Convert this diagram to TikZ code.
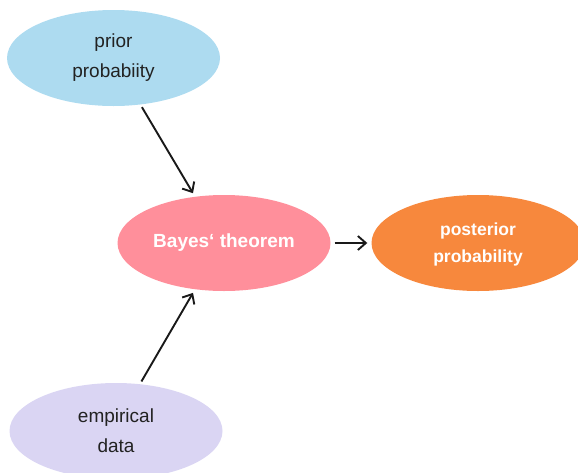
\documentclass[tikz,border=0pt]{standalone}
\usepackage{fontspec}
\setmainfont{Liberation Sans}
\usetikzlibrary{arrows.meta,shapes.geometric}
\definecolor{priorblue}{HTML}{ADDBF0}
\definecolor{bayespink}{HTML}{FF8F9B}
\definecolor{postorange}{HTML}{F7883D}
\definecolor{datalilac}{HTML}{DAD5F3}
\definecolor{inktext}{HTML}{222222}
\tikzset{
  blob/.style={ellipse, inner sep=0pt, minimum width=213pt, minimum height=96pt,
    align=center, text=inktext, font=\fontsize{19}{30}\selectfont},
  boldblob/.style={blob, text=white, font=\bfseries\fontsize{19}{28}\selectfont},
  link/.style={draw=black!90, line width=1.9pt, -{Straight Barb[length=8pt,width=14pt]}}
}
\begin{document}
\begin{tikzpicture}[x=1pt, y=-1pt]
  \useasboundingbox (0,0) rectangle (578,472);
  \clip (0,0) rectangle (578,472);
  % the four ellipses
  \node[blob, fill=priorblue] (prior) at (113.5,58) {prior\\probabiity};
  \node[boldblob, fill=bayespink] (bayes) at (224,243) {Bayes‘ theorem};
  \node[boldblob, fill=postorange, font=\bfseries\fontsize{17.5}{28}\selectfont]
    (post) at (478,243) {\raisebox{-2pt}{\begin{tabular}{@{}c@{}}posterior\\[-1pt]probability\end{tabular}}};
  \node[blob, fill=datalilac] (data) at (116,431) {empirical\\data};
  % connectors
  \draw[link, shorten <=3pt, shorten >=4pt] (prior.-60) -- (bayes.122.6);
  \draw[link, shorten <=3pt, shorten >=4pt] (data.63) -- (bayes.238.4);
  \draw[link, shorten <=4pt, shorten >=4pt] (bayes.east) -- (post.west);
\end{tikzpicture}
\end{document}
